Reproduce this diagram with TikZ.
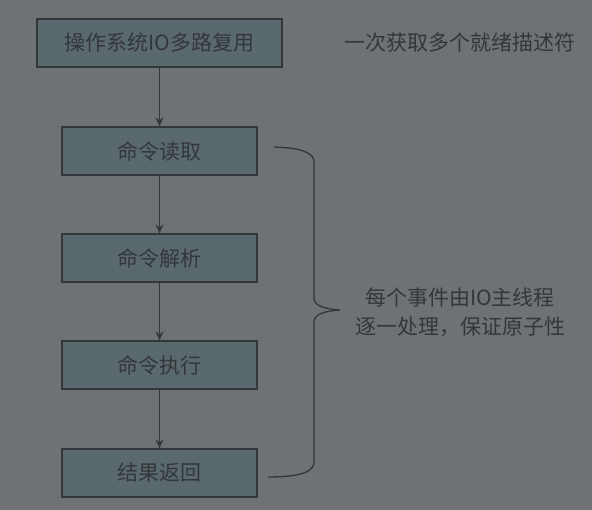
\documentclass[tikz,border=0pt]{standalone}
\usepackage{fontspec}
\setmainfont{Noto Sans CJK SC}
\usetikzlibrary{arrows.meta}
\definecolor{bg}{HTML}{6E7275}
\definecolor{boxfill}{HTML}{5A696D}
\definecolor{ink}{HTML}{33373A}
\begin{document}
\begin{tikzpicture}[x=1pt,y=-1pt,
  stepbox/.style={draw=ink, line width=1.3pt, fill=boxfill, text=ink, minimum height=48pt, inner sep=0pt, font=\fontsize{21}{25}\selectfont},
  flow/.style={draw=ink, line width=1.8pt, -{Stealth[length=9pt,width=8pt]}},
  note/.style={text=ink, font=\fontsize{21}{29}\selectfont, align=center}]
\fill[bg] (0,0) rectangle (592,510);
\useasboundingbox (0,0) rectangle (592,510);
\node[stepbox, minimum width=245pt] (mux) at (159.5,43) {操作系统IO多路复用};
\node[stepbox, minimum width=195pt] (read) at (159.5,151) {命令读取};
\node[stepbox, minimum width=195pt] (parse) at (159.5,258) {命令解析};
\node[stepbox, minimum width=195pt] (exec) at (159.5,365) {命令执行};
\node[stepbox, minimum width=195pt] (ret) at (159.5,473) {结果返回};
\draw[flow] (mux) -- (read);
\draw[flow] (read) -- (parse);
\draw[flow] (parse) -- (exec);
\draw[flow] (exec) -- (ret);
\node[note] (ready) at (460,43) {一次获取多个就绪描述符};
\node[note] (atomic) at (460,312) {每个事件由IO主线程\\逐一处理，保证原子性};
\coordinate (btop) at (274,147);
\coordinate (btip) at (340,310);
\coordinate (bbot) at (268,477);
\draw[ink, line width=1.3pt]
  (btop) .. controls (300,148) and (314,152) .. (314,162)
  -- (314,298) .. controls (314,306) and (325,309) .. (btip)
  .. controls (325,311) and (314,314) .. (314,322)
  -- (314,462) .. controls (314,472) and (300,477) .. (bbot);
\end{tikzpicture}
\end{document}
